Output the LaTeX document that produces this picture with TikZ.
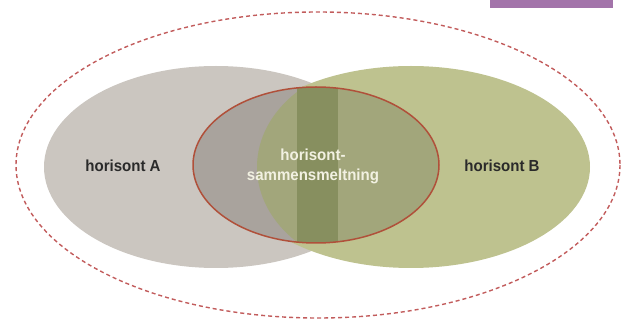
\documentclass[tikz,border=0pt]{standalone}
\usepackage{fontspec}
\setmainfont{Liberation Sans}
\definecolor{greyA}{HTML}{CBC6C0}
\definecolor{greyAdark}{HTML}{A9A39D}
\definecolor{greenB}{HTML}{BEC28F}
\definecolor{greenBdark}{HTML}{A2A67B}
\definecolor{bandgreen}{HTML}{878F5F}
\definecolor{fuserim}{HTML}{B0503A}
\definecolor{dashred}{HTML}{C25C5C}
\definecolor{tabpurple}{HTML}{A374AA}
\definecolor{labeldark}{HTML}{2A2A2A}
\definecolor{labellight}{HTML}{F2F1E2}
\tikzset{
  lbl/.style={font=\bfseries\fontsize{16}{20}\selectfont, align=center, inner sep=0pt},
}
\newcommand{\cond}[1]{\scalebox{0.94}[1]{#1}}
\begin{document}
\begin{tikzpicture}[x=1pt,y=-1pt]
\useasboundingbox (0,0) rectangle (622,323);
% tab in the corner
\fill[tabpurple] (490,0) rectangle (613,8);
% outer dashed boundary
\draw[dashred, line width=1.4pt, dash pattern=on 4pt off 3pt] (318,165) ellipse [x radius=302, y radius=153];
% the two horizons
\fill[greyA] (216,167) ellipse [x radius=172, y radius=101];
\fill[greenB] (411,167) ellipse [x radius=179, y radius=101];
% the fusion zone
\begin{scope}
  \clip (316,165) ellipse [x radius=123, y radius=78];
  \fill[greyAdark] (190,80) rectangle (445,250);
  \fill[greenBdark] (390,167) ellipse [x radius=133, y radius=105];
  \fill[bandgreen] (297,80) rectangle (338,250);
\end{scope}
\draw[fuserim, line width=1.5pt] (316,165) ellipse [x radius=123, y radius=78];
% labels
\node[lbl, text=labeldark] (hA) at (123,166) {\cond{horisont A}};
\node[lbl, text=labeldark] (hB) at (502,166) {\cond{horisont B}};
\node[lbl, text=labellight] (hAB) at (313,166) {\cond{horisont-}\\\cond{sammensmeltning}};
\end{tikzpicture}
\end{document}
